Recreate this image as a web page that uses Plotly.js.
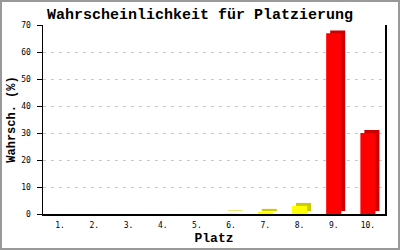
<!DOCTYPE html>
<html><head><meta charset="utf-8">
<script src="https://cdn.plot.ly/plotly-3.0.1.min.js"></script>
<style>html,body{margin:0;padding:0;background:#fff;}#wrap{position:relative;width:400px;height:250px;}#chart{width:400px;height:250px;}#frame{position:absolute;left:0;top:0;width:400px;height:250px;box-sizing:border-box;border:2px solid #999;pointer-events:none;}</style>
</head><body><div id="wrap"><div id="chart"></div><div id="frame"></div></div>
<script>
const places = ["1.","2.","3.","4.","5.","6.","7.","8.","9.","10."];
const probs = [0,0,0,0,0,0.2,0.8,3.0,66.9,30.0];
const frontColors = probs.map(v => v > 10 ? "#ff0000" : "#ffff00");
const sideColors = probs.map(v => v > 10 ? "#cc0000" : "#cccc00");

const barW = 0.44, dx = 0.117, dy = 1.1;
const mono = "DejaVu Sans Mono, monospace";
const courier = "Liberation Mono, Courier New, monospace";

const back = {
  type: "bar", x: places, y: probs, base: probs.map(() => dy),
  width: barW, offset: -barW/2 + dx,
  marker: {color: sideColors, line: {width: 0}}, hoverinfo: "skip", showlegend: false
};
const front = {
  type: "bar", x: places, y: probs,
  width: barW, offset: -barW/2,
  marker: {color: frontColors, line: {width: 0}}, showlegend: false
};

const layout = {
  width: 400, height: 250,
  margin: {l: 43, r: 15, t: 25, b: 36},
  paper_bgcolor: "#ffffff", plot_bgcolor: "#ffffff",
  barmode: "overlay",
  title: {text: "<b>Wahrscheinlichkeit für Platzierung</b>", font: {family: courier, size: 15, color: "#000"}, x: 0.5, xref: "container", y: 0.944, yref: "container", xanchor: "center", yanchor: "middle"},
  xaxis: {
    type: "category", categoryorder: "array", categoryarray: places,
    range: [-0.5, 9.5],
    showline: true, linecolor: "#000", linewidth: 1.5,
    ticks: "", showgrid: false, zeroline: false,
    ticklabelstandoff: 3,
    tickfont: {family: mono, size: 8, color: "#000"},
    title: {text: "<b>Platz</b>", font: {family: courier, size: 13, color: "#000"}, standoff: 4}
  },
  yaxis: {
    range: [0, 70], dtick: 10, tick0: 0,
    showline: true, linecolor: "#000", linewidth: 1.5, mirror: true,
    ticks: "outside", ticklen: 5, tickcolor: "#000", tickwidth: 1,
    showgrid: true, gridcolor: "#c8c8c8", griddash: "3px,5px", gridwidth: 1,
    zeroline: false,
    ticklabelstandoff: 4,
    tickfont: {family: mono, size: 8, color: "#000"},
    title: {text: "<b>Wahrsch. (%)</b>", font: {family: courier, size: 12, color: "#000"}, standoff: 3}
  }
};

Plotly.newPlot("chart", [back, front], layout, {displayModeBar: false, staticPlot: true});
</script></body></html>
